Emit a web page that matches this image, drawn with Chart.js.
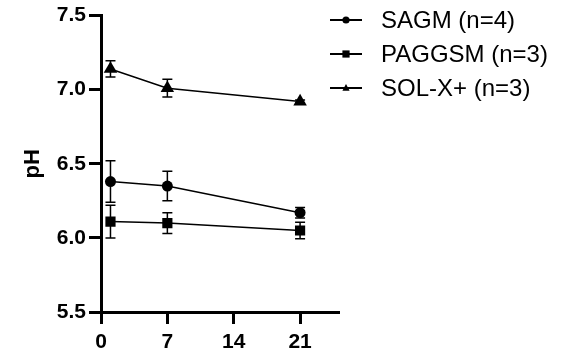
<!DOCTYPE html>
<html>
<head>
<meta charset="utf-8">
<script src="https://cdn.jsdelivr.net/npm/chart.js@4/dist/chart.umd.min.js"></script>
<style>
  html, body { margin: 0; padding: 0; background: #fff; }
  #wrap { width: 564px; height: 353px; }
</style>
</head>
<body>
<div id="wrap"><canvas id="ph-chart"></canvas></div>
<script>
// days of storage
const days = [1, 7, 21];
const xTicks = [0, 7, 14, 21];

const seriesNames = ['SAGM (n=4)', 'PAGGSM (n=3)', 'SOL-X+ (n=3)'];
const sagmPh = [6.38, 6.35, 6.17];
const sagmSd = [0.14, 0.10, 0.035];
const paggsmPh = [6.11, 6.10, 6.05];
const paggsmSd = [0.11, 0.07, 0.055];
const solxPh = [7.14, 7.01, 6.92];
const solxSd = [0.055, 0.06, 0.01];

const markers = ['circle', 'rect', 'triangle'];
const markerSize = [5.5, 7.2, 7.8];

const FONT = 'Arial, "Liberation Sans", sans-serif';

function toPoints(ys) {
    return days.map((d, i) => ({ x: d, y: ys[i] }));
}

function drawMarker(ctx, style, x, y, r) {
    ctx.beginPath();
    if (style === 'circle') {
        ctx.arc(x, y, r, 0, Math.PI * 2);
    } else if (style === 'rect') {
        ctx.rect(x - r, y - r, r * 2, r * 2);
    } else {
        ctx.moveTo(x, y - r * 1.1);
        ctx.lineTo(x + r, y + r * 0.75);
        ctx.lineTo(x - r, y + r * 0.75);
        ctx.closePath();
    }
    ctx.fill();
}

// error bars (mean +/- SD) drawn through the scales
const errorBars = {
    id: 'errorBars',
    beforeDatasetsDraw(chart) {
        const ctx = chart.ctx;
        const xs = chart.scales.x, ys = chart.scales.y;
        ctx.save();
        ctx.strokeStyle = '#000';
        ctx.lineWidth = 1.5;
        chart.data.datasets.forEach(ds => {
            ds.data.forEach((p, i) => {
                const sd = ds.sd[i];
                const px = xs.getPixelForValue(p.x);
                const top = ys.getPixelForValue(p.y + sd);
                const bot = ys.getPixelForValue(p.y - sd);
                ctx.beginPath();
                ctx.moveTo(px, top); ctx.lineTo(px, bot);
                ctx.moveTo(px - 5, top); ctx.lineTo(px + 5, top);
                ctx.moveTo(px - 5, bot); ctx.lineTo(px + 5, bot);
                ctx.stroke();
            });
        });
        ctx.restore();
    }
};

// legend with line + marker like the original figure
const sideLegend = {
    id: 'sideLegend',
    afterDraw(chart) {
        const ctx = chart.ctx;
        ctx.save();
        ctx.font = '24px ' + FONT;
        ctx.textBaseline = 'middle';
        ctx.textAlign = 'left';
        ctx.fillStyle = '#000';
        ctx.strokeStyle = '#000';
        chart.data.datasets.forEach((ds, i) => {
            const y = 20 + i * 34;
            ctx.lineWidth = 2;
            ctx.beginPath();
            ctx.moveTo(330, y); ctx.lineTo(362, y);
            ctx.stroke();
            drawMarker(ctx, markers[i], 346, y, 3.6);
            ctx.fillText(ds.label, 381, y + 1);
        });
        ctx.restore();
    }
};

const datasets = [
    { label: seriesNames[0], data: toPoints(sagmPh), sd: sagmSd },
    { label: seriesNames[1], data: toPoints(paggsmPh), sd: paggsmSd },
    { label: seriesNames[2], data: toPoints(solxPh), sd: solxSd }
].map((ds, i) => Object.assign(ds, {
    borderColor: '#000',
    backgroundColor: '#000',
    borderWidth: 1.5,
    pointStyle: markers[i],
    pointRadius: markerSize[i],
    pointHoverRadius: markerSize[i],
    pointBorderWidth: 0,
    tension: 0,
    fill: false
}));

new Chart(document.getElementById('ph-chart'), {
    type: 'line',
    data: { datasets: datasets },
    options: {
        responsive: true,
        maintainAspectRatio: false,
        animation: false,
        layout: { padding: { top: 15, right: 226, bottom: 0, left: 0 } },
        plugins: {
            legend: { display: false },
            tooltip: { enabled: false }
        },
        scales: {
            x: {
                type: 'linear',
                min: 0,
                max: 25,
                afterBuildTicks: axis => { axis.ticks = xTicks.map(v => ({ value: v })); },
                afterFit: axis => { axis.height = 41; },
                border: { color: '#000', width: 3 },
                grid: { drawOnChartArea: false, drawTicks: true, tickLength: 12, color: '#000', lineWidth: 3 },
                ticks: { color: '#000', padding: 6, font: { family: FONT, size: 21, weight: 'bold' }, maxRotation: 0 }
            },
            y: {
                min: 5.5,
                max: 7.5,
                afterFit: axis => { axis.width = 101; },
                border: { color: '#000', width: 3 },
                grid: { drawOnChartArea: false, drawTicks: true, tickLength: 12, color: '#000', lineWidth: 3 },
                ticks: {
                    stepSize: 0.5,
                    color: '#000',
                    padding: 3,
                    font: { family: FONT, size: 21, weight: 'bold' },
                    callback: v => v.toFixed(1)
                },
                title: {
                    display: true,
                    text: 'pH',
                    color: '#000',
                    font: { family: FONT, size: 22, weight: 'bold' },
                    padding: { top: 20, bottom: 0 }
                }
            }
        }
    },
    plugins: [errorBars, sideLegend]
});
</script>
</body>
</html>
